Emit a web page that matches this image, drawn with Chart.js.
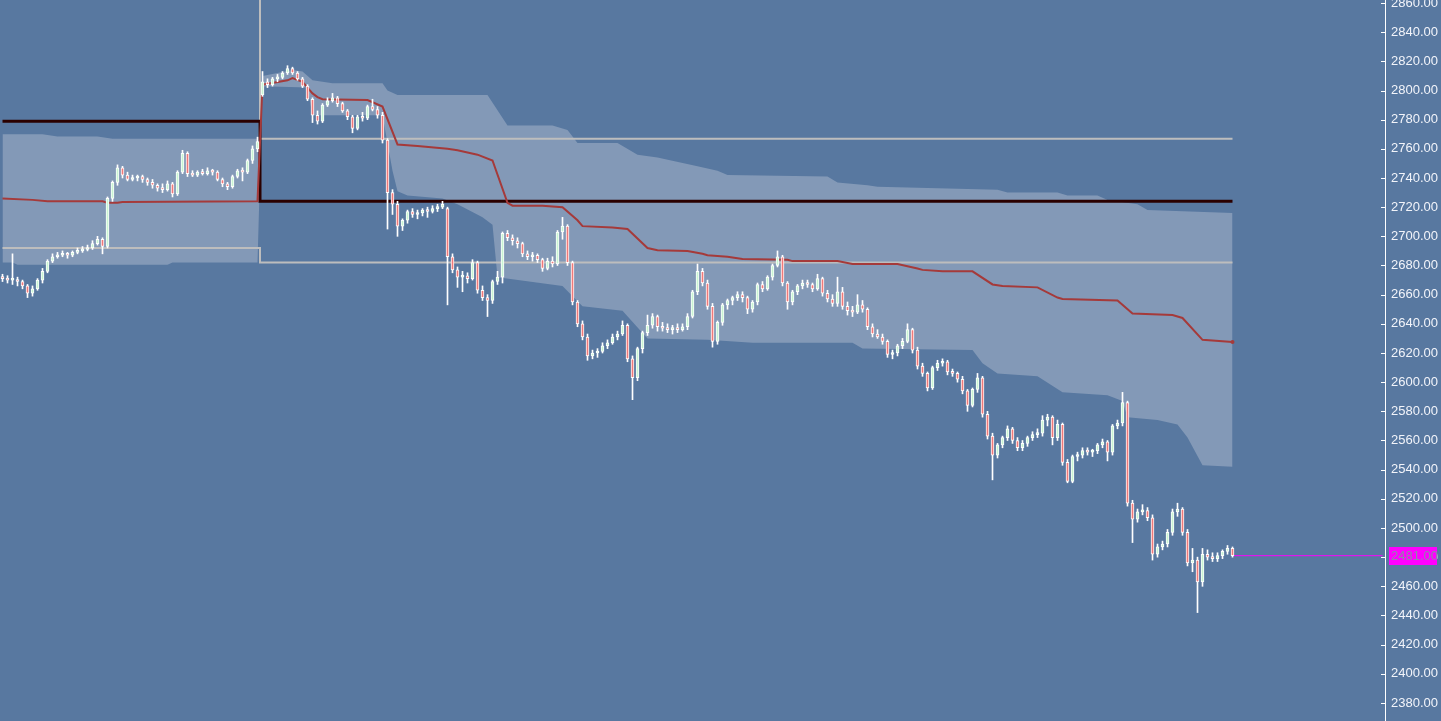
<!DOCTYPE html>
<html>
<head>
<meta charset="utf-8">
<script src="https://cdn.jsdelivr.net/npm/chart.js@4.4.1/dist/chart.umd.min.js"></script>
<style>
  html, body { margin: 0; padding: 0; background: #5878a0; overflow: hidden; }
  canvas { display: block; }
</style>
</head>
<body>
<canvas id="chart" width="1441" height="721"></canvas>
<script>
// price axis
const yMin = 2367.65, yMax = 2862.06;
const priceTicks = [2380, 2400, 2420, 2440, 2460, 2480, 2500, 2520, 2540, 2560, 2580, 2600, 2620,
  2640, 2660, 2680, 2700, 2720, 2740, 2760, 2780, 2800, 2820, 2840, 2860];
const lastPrice = 2481;
const slotCount = 277; // candle slots across the plot, the right part stays empty

// candles, one per slot (day 1: 0-51, day 2: 52-246)
const opens = [
  2672,2671,2670,2670,2669,2666,2661,2664,2670,2676,
  2683,2686,2687,2688,2687,2689,2690,2691,2692,2695,
  2698,2693,2726,2737,2747,2742,2739,2740,2741,2739,
  2737,2735,2733,2732,2736,2729,2744,2757,2743,2742,
  2744,2743,2745,2744,2739,2736,2734,2741,2745,2744,
  2752,2760,
  2797,2806,2804,2808,2809,2812,2815,2812,
  2808,2803,2794,2783,2779,2790,2793,2795,2791,2786,
  2782,2774,2782,2781,2789,2787,2783,2766,2730,2722,
  2707,2711,2717,2715,2716,2718,2717,2719,2720,2719,
  2686,2677,2672,2673,2671,2682,2663,2658,2656,2669,
  2672,2702,2699,2697,2695,2688,2686,2687,2684,2678,
  2683,2681,2703,2707,2682,2655,2640,2631,2618,2620,
  2621,2625,2627,2631,2633,2639,2616,2603,2623,2634,
  2639,2645,2638,2637,2636,2637,2636,2638,2645,2662,
  2676,2668,2652,2628,2641,2653,2656,2658,2660,2658,
  2650,2655,2667,2664,2672,2680,2686,2668,2655,2662,
  2666,2668,2667,2664,2671,2661,2657,2654,2662,2652,
  2649,2648,2653,2650,2638,2633,2631,2628,2619,2620,
  2625,2628,2636,2622,2611,2606,2596,2610,2613,2614,
  2607,2606,2602,2594,2584,2595,2603,2578,2563,2550,
  2557,2562,2568,2560,2555,2558,2562,2564,2565,2574,
  2576,2562,2571,2545,2532,2549,2550,2553,2552,2553,
  2557,2559,2552,2570,2572,2586,2517,2506,2511,2512,
  2507,2482,2487,2489,2497,2511,2513,2497,2476,2478,
  2463,2482,2480,2479,2481,2484,2486
];
const highs = [
  2674,2673,2688,2672,2670,2667,2666,2671,2678,2684,
  2688,2689,2690,2689,2690,2692,2693,2694,2697,2700,
  2699,2727,2738,2749,2748,2744,2742,2742,2742,2740,
  2739,2736,2736,2738,2737,2745,2759,2758,2745,2745,
  2746,2747,2746,2745,2740,2737,2742,2746,2747,2753,
  2762,2768,
  2813,2808,2809,2811,2813,2817,2816,2813,
  2809,2804,2795,2786,2791,2795,2798,2796,2792,2787,
  2783,2783,2785,2790,2794,2789,2785,2767,2732,2724,
  2712,2718,2719,2718,2719,2720,2721,2722,2724,2720,
  2688,2679,2676,2675,2684,2683,2666,2660,2670,2676,
  2703,2704,2701,2699,2696,2690,2689,2688,2685,2685,
  2686,2704,2713,2708,2683,2656,2642,2633,2622,2623,
  2627,2629,2633,2635,2642,2640,2618,2624,2635,2646,
  2647,2646,2641,2640,2639,2640,2640,2647,2663,2681,
  2678,2670,2654,2642,2654,2657,2659,2662,2662,2659,
  2656,2668,2669,2673,2681,2690,2687,2669,2663,2667,
  2670,2670,2668,2674,2672,2663,2660,2672,2665,2655,
  2652,2660,2656,2651,2640,2636,2633,2629,2622,2626,
  2630,2640,2637,2624,2613,2607,2611,2615,2616,2615,
  2609,2607,2604,2595,2596,2606,2604,2580,2565,2558,
  2563,2570,2569,2562,2560,2563,2566,2568,2577,2578,
  2577,2574,2572,2547,2550,2552,2555,2555,2554,2558,
  2561,2560,2571,2574,2593,2587,2519,2513,2516,2514,
  2509,2489,2491,2499,2513,2517,2514,2499,2486,2480,
  2486,2485,2483,2483,2485,2488,2487
];
const lows = [
  2669,2668,2667,2666,2664,2658,2659,2663,2668,2675,
  2682,2685,2686,2685,2686,2688,2689,2690,2691,2694,
  2688,2692,2724,2735,2740,2738,2738,2738,2737,2735,
  2733,2731,2730,2731,2727,2728,2743,2741,2741,2741,
  2742,2742,2742,2738,2734,2732,2733,2740,2738,2743,
  2750,2758,
  2796,2802,2803,2806,2808,2811,2811,2807,
  2802,2793,2778,2777,2778,2789,2792,2789,2785,2780,
  2771,2773,2779,2780,2786,2781,2764,2705,2715,2700,
  2704,2709,2713,2712,2714,2713,2716,2717,2719,2653,
  2675,2665,2662,2668,2670,2661,2656,2645,2654,2667,
  2668,2697,2694,2692,2686,2684,2683,2682,2676,2677,
  2679,2680,2698,2680,2653,2638,2629,2615,2616,2617,
  2620,2623,2626,2629,2632,2614,2588,2601,2620,2632,
  2637,2635,2635,2634,2633,2634,2635,2636,2644,2660,
  2666,2650,2624,2626,2639,2650,2653,2656,2655,2647,
  2648,2653,2662,2663,2670,2679,2666,2650,2653,2660,
  2664,2665,2662,2663,2659,2655,2652,2652,2650,2646,
  2645,2647,2648,2636,2631,2630,2626,2617,2616,2618,
  2623,2627,2620,2609,2604,2594,2595,2608,2611,2605,
  2604,2600,2592,2580,2583,2593,2576,2561,2533,2548,
  2555,2560,2558,2553,2553,2556,2560,2562,2563,2570,
  2557,2560,2543,2531,2531,2546,2548,2550,2549,2551,
  2555,2546,2550,2568,2570,2515,2490,2504,2509,2505,
  2478,2480,2485,2487,2495,2508,2495,2474,2470,2442,
  2460,2478,2477,2477,2479,2482,2480
];
const closes = [
  2671,2670,2670,2669,2666,2661,2664,2670,2676,2683,
  2686,2687,2688,2687,2689,2690,2691,2692,2695,2698,
  2693,2726,2737,2747,2742,2739,2740,2741,2739,2737,
  2735,2733,2732,2736,2729,2744,2757,2743,2742,2744,
  2743,2745,2744,2739,2736,2734,2741,2745,2744,2752,
  2760,2765,
  2806,2804,2808,2809,2812,2815,2812,2808,
  2803,2794,2783,2779,2790,2793,2795,2791,2786,2782,
  2774,2782,2781,2789,2787,2783,2766,2730,2722,2707,
  2711,2717,2715,2716,2718,2717,2719,2720,2722,2686,
  2677,2672,2673,2671,2682,2663,2658,2656,2669,2672,
  2702,2699,2697,2695,2688,2686,2687,2684,2678,2683,
  2681,2703,2707,2682,2655,2640,2631,2618,2620,2621,
  2625,2627,2631,2633,2639,2616,2603,2623,2634,2639,
  2645,2638,2637,2636,2637,2636,2638,2645,2662,2676,
  2668,2652,2628,2641,2653,2656,2658,2660,2658,2650,
  2655,2667,2664,2672,2680,2686,2668,2655,2662,2666,
  2668,2667,2664,2671,2661,2657,2654,2662,2652,2649,
  2648,2653,2650,2638,2633,2631,2628,2619,2620,2625,
  2628,2636,2622,2611,2606,2596,2610,2613,2614,2607,
  2606,2602,2594,2584,2595,2603,2578,2563,2550,2557,
  2562,2568,2560,2555,2558,2562,2564,2565,2574,2576,
  2562,2571,2545,2532,2549,2550,2553,2552,2553,2557,
  2559,2552,2570,2572,2586,2517,2506,2511,2512,2507,
  2482,2487,2489,2497,2511,2513,2497,2476,2478,2463,
  2482,2480,2479,2481,2484,2486,2481
];

// shaded band edges, [slot, price]
const bandTop = [
  [0, 2770], [8, 2770], [11, 2768.5], [19, 2768.5], [22, 2767], [51, 2767],
  [52, 2810], [58, 2814], [60, 2813], [62, 2807], [66, 2805], [76, 2805], [77, 2800], [79, 2797],
  [97, 2797], [101, 2776], [110, 2776], [113, 2773], [115, 2764], [123, 2764], [127, 2756],
  [131, 2754], [139, 2748], [143, 2745], [145, 2742], [165, 2741], [167, 2737], [173, 2735],
  [175, 2734], [199, 2732], [201, 2730], [211, 2730], [213, 2728], [219, 2728], [221, 2725],
  [227, 2722], [229, 2718], [246, 2716]
];
const bandBottom = [
  [0, 2682], [2, 2682], [3, 2680.5], [33, 2680.5], [34, 2682], [51, 2682],
  [52, 2803], [61, 2802], [62, 2783], [76, 2783], [78, 2745], [79, 2731], [81, 2728], [88, 2726],
  [91, 2722], [96, 2713], [98, 2708], [99, 2672], [112, 2666], [116, 2652], [124, 2649],
  [129, 2630], [141, 2629], [150, 2627], [170, 2627], [172, 2623], [194, 2622], [196, 2613],
  [199, 2606], [207, 2604], [212, 2593], [221, 2591], [224, 2587], [225, 2576], [231, 2574],
  [235, 2571], [237, 2562], [240, 2543], [246, 2542]
];
// red average line, [slot, price]
const avgLine = [
  [0, 2726], [6, 2725], [9, 2724], [20, 2724], [21, 2723], [23, 2723], [24, 2723.5], [51, 2724],
  [52, 2804], [57, 2807], [58, 2808.5], [60, 2806], [61, 2802], [62, 2798], [63, 2795.5],
  [64, 2794], [73, 2793.5], [76, 2789], [79, 2763], [83, 2762], [89, 2760], [91, 2759],
  [95, 2756], [98, 2752], [101, 2723], [102, 2721], [108, 2721], [112, 2720], [115, 2711],
  [116, 2707], [122, 2706], [125, 2705], [129, 2692], [131, 2690.5], [137, 2690], [140, 2688],
  [141, 2687], [145, 2686], [148, 2684.5], [157, 2684], [158, 2683], [167, 2683], [170, 2681],
  [179, 2681], [183, 2678], [184, 2677], [188, 2676], [194, 2676], [198, 2667], [200, 2666],
  [207, 2665], [211, 2658], [212, 2657], [223, 2656], [226, 2647], [234, 2646], [236, 2644],
  [240, 2629], [246, 2627.5]
];
// prior-day levels, [slot, price], drawn as steps
const levelDark = [[0, 2779], [51, 2779], [52, 2724], [246, 2724]];
const levelGrayLow = [[0, 2692], [51, 2692], [52, 2682], [246, 2682]];
const levelGrayHigh = [[0, 2880], [51, 2880], [52, 2767], [246, 2767]];
const lastLine = [[246, lastPrice], [276, lastPrice]];

const toPoints = arr => arr.map(p => ({ x: p[0], y: p[1] }));
const slots = Array.from({ length: slotCount }, (_, i) => i);
const bodies = opens.map((o, i) => [o, closes[i]]);
const wicks = lows.map((lo, i) => [lo, highs[i]]);
const bodyColors = opens.map((o, i) => closes[i] >= o ? '#c8f5d2' : '#f07a7a');

const bgPlugin = {
  id: 'bg',
  beforeDraw(chart) {
    const ctx = chart.ctx;
    ctx.save();
    ctx.fillStyle = '#5878a0';
    ctx.fillRect(0, 0, chart.width, chart.height);
    ctx.restore();
  }
};

// tick marks left of the axis and the last price tag
const axisPlugin = {
  id: 'axisExtras',
  afterDraw(chart) {
    const ctx = chart.ctx;
    const y = chart.scales.y;
    ctx.save();
    ctx.strokeStyle = '#ffffff';
    ctx.lineWidth = 1;
    y.ticks.forEach(t => {
      const py = Math.round(y.getPixelForValue(t.value)) + 0.5;
      ctx.beginPath();
      ctx.moveTo(y.left - 4, py);
      ctx.lineTo(y.left, py);
      ctx.stroke();
    });
    const py = y.getPixelForValue(lastPrice);
    ctx.fillStyle = '#ff00ff';
    ctx.fillRect(y.left + 4, Math.round(py) - 9, 48, 18);
    ctx.fillStyle = '#8e86aa';
    ctx.font = '13px "Liberation Sans", Arial, sans-serif';
    ctx.textBaseline = 'middle';
    ctx.fillText(lastPrice.toFixed(2), y.left + 6, py + 1);
    ctx.restore();
  }
};

new Chart(document.getElementById('chart'), {
  type: 'bar',
  data: {
    labels: slots,
    datasets: [
      { type: 'bar', data: bodies, backgroundColor: bodyColors, borderColor: '#ffffff', borderWidth: 1,
        borderSkipped: false, barThickness: 3, minBarLength: 2, grouped: false, order: 0 },
      { type: 'bar', data: wicks, backgroundColor: '#ffffff', borderWidth: 0,
        barThickness: 1, grouped: false, order: 1 },
      { type: 'line', data: toPoints(lastLine), borderColor: '#ff00ff', borderWidth: 1,
        pointRadius: 0, order: 2 },
      { type: 'line', data: toPoints(avgLine), borderColor: '#a53a3a', borderWidth: 2,
        pointRadius: c => c.dataIndex === avgLine.length - 1 ? 2 : 0,
        pointBackgroundColor: '#a53a3a', pointBorderWidth: 0, order: 3 },
      { type: 'line', data: toPoints(levelDark), stepped: 'middle', borderColor: '#2a0000',
        borderWidth: 3, pointRadius: 0, order: 4 },
      { type: 'line', data: toPoints(levelGrayLow), stepped: 'middle', borderColor: '#bdbdbd',
        borderWidth: 2, pointRadius: 0, order: 5 },
      { type: 'line', data: toPoints(levelGrayHigh), stepped: 'middle', borderColor: '#bdbdbd',
        borderWidth: 2, pointRadius: 0, order: 5 },
      { type: 'line', data: toPoints(bandTop), borderColor: 'rgba(0,0,0,0)', borderWidth: 0,
        pointRadius: 0, fill: '+1', backgroundColor: '#8399b7', order: 6 },
      { type: 'line', data: toPoints(bandBottom), borderColor: 'rgba(0,0,0,0)', borderWidth: 0,
        pointRadius: 0, fill: false, order: 7 }
    ]
  },
  options: {
    responsive: false,
    animation: false,
    layout: { padding: 0, autoPadding: false },
    plugins: { legend: { display: false }, tooltip: { enabled: false } },
    scales: {
      x: { display: false, offset: true },
      y: {
        type: 'linear',
        position: 'right',
        min: yMin,
        max: yMax,
        afterBuildTicks: s => { s.ticks = priceTicks.map(v => ({ value: v })); },
        afterFit: s => { s.width = 56; s.paddingTop = 0; s.paddingBottom = 0; },
        ticks: {
          color: '#f2f4fa',
          font: { family: '"Liberation Sans", Arial, sans-serif', size: 13 },
          padding: 6,
          autoSkip: false,
          callback: v => v.toFixed(2)
        },
        grid: { drawOnChartArea: false, drawTicks: false },
        border: { color: '#ffffff', width: 1 }
      }
    }
  },
  plugins: [bgPlugin, axisPlugin]
});
</script>
</body>
</html>
